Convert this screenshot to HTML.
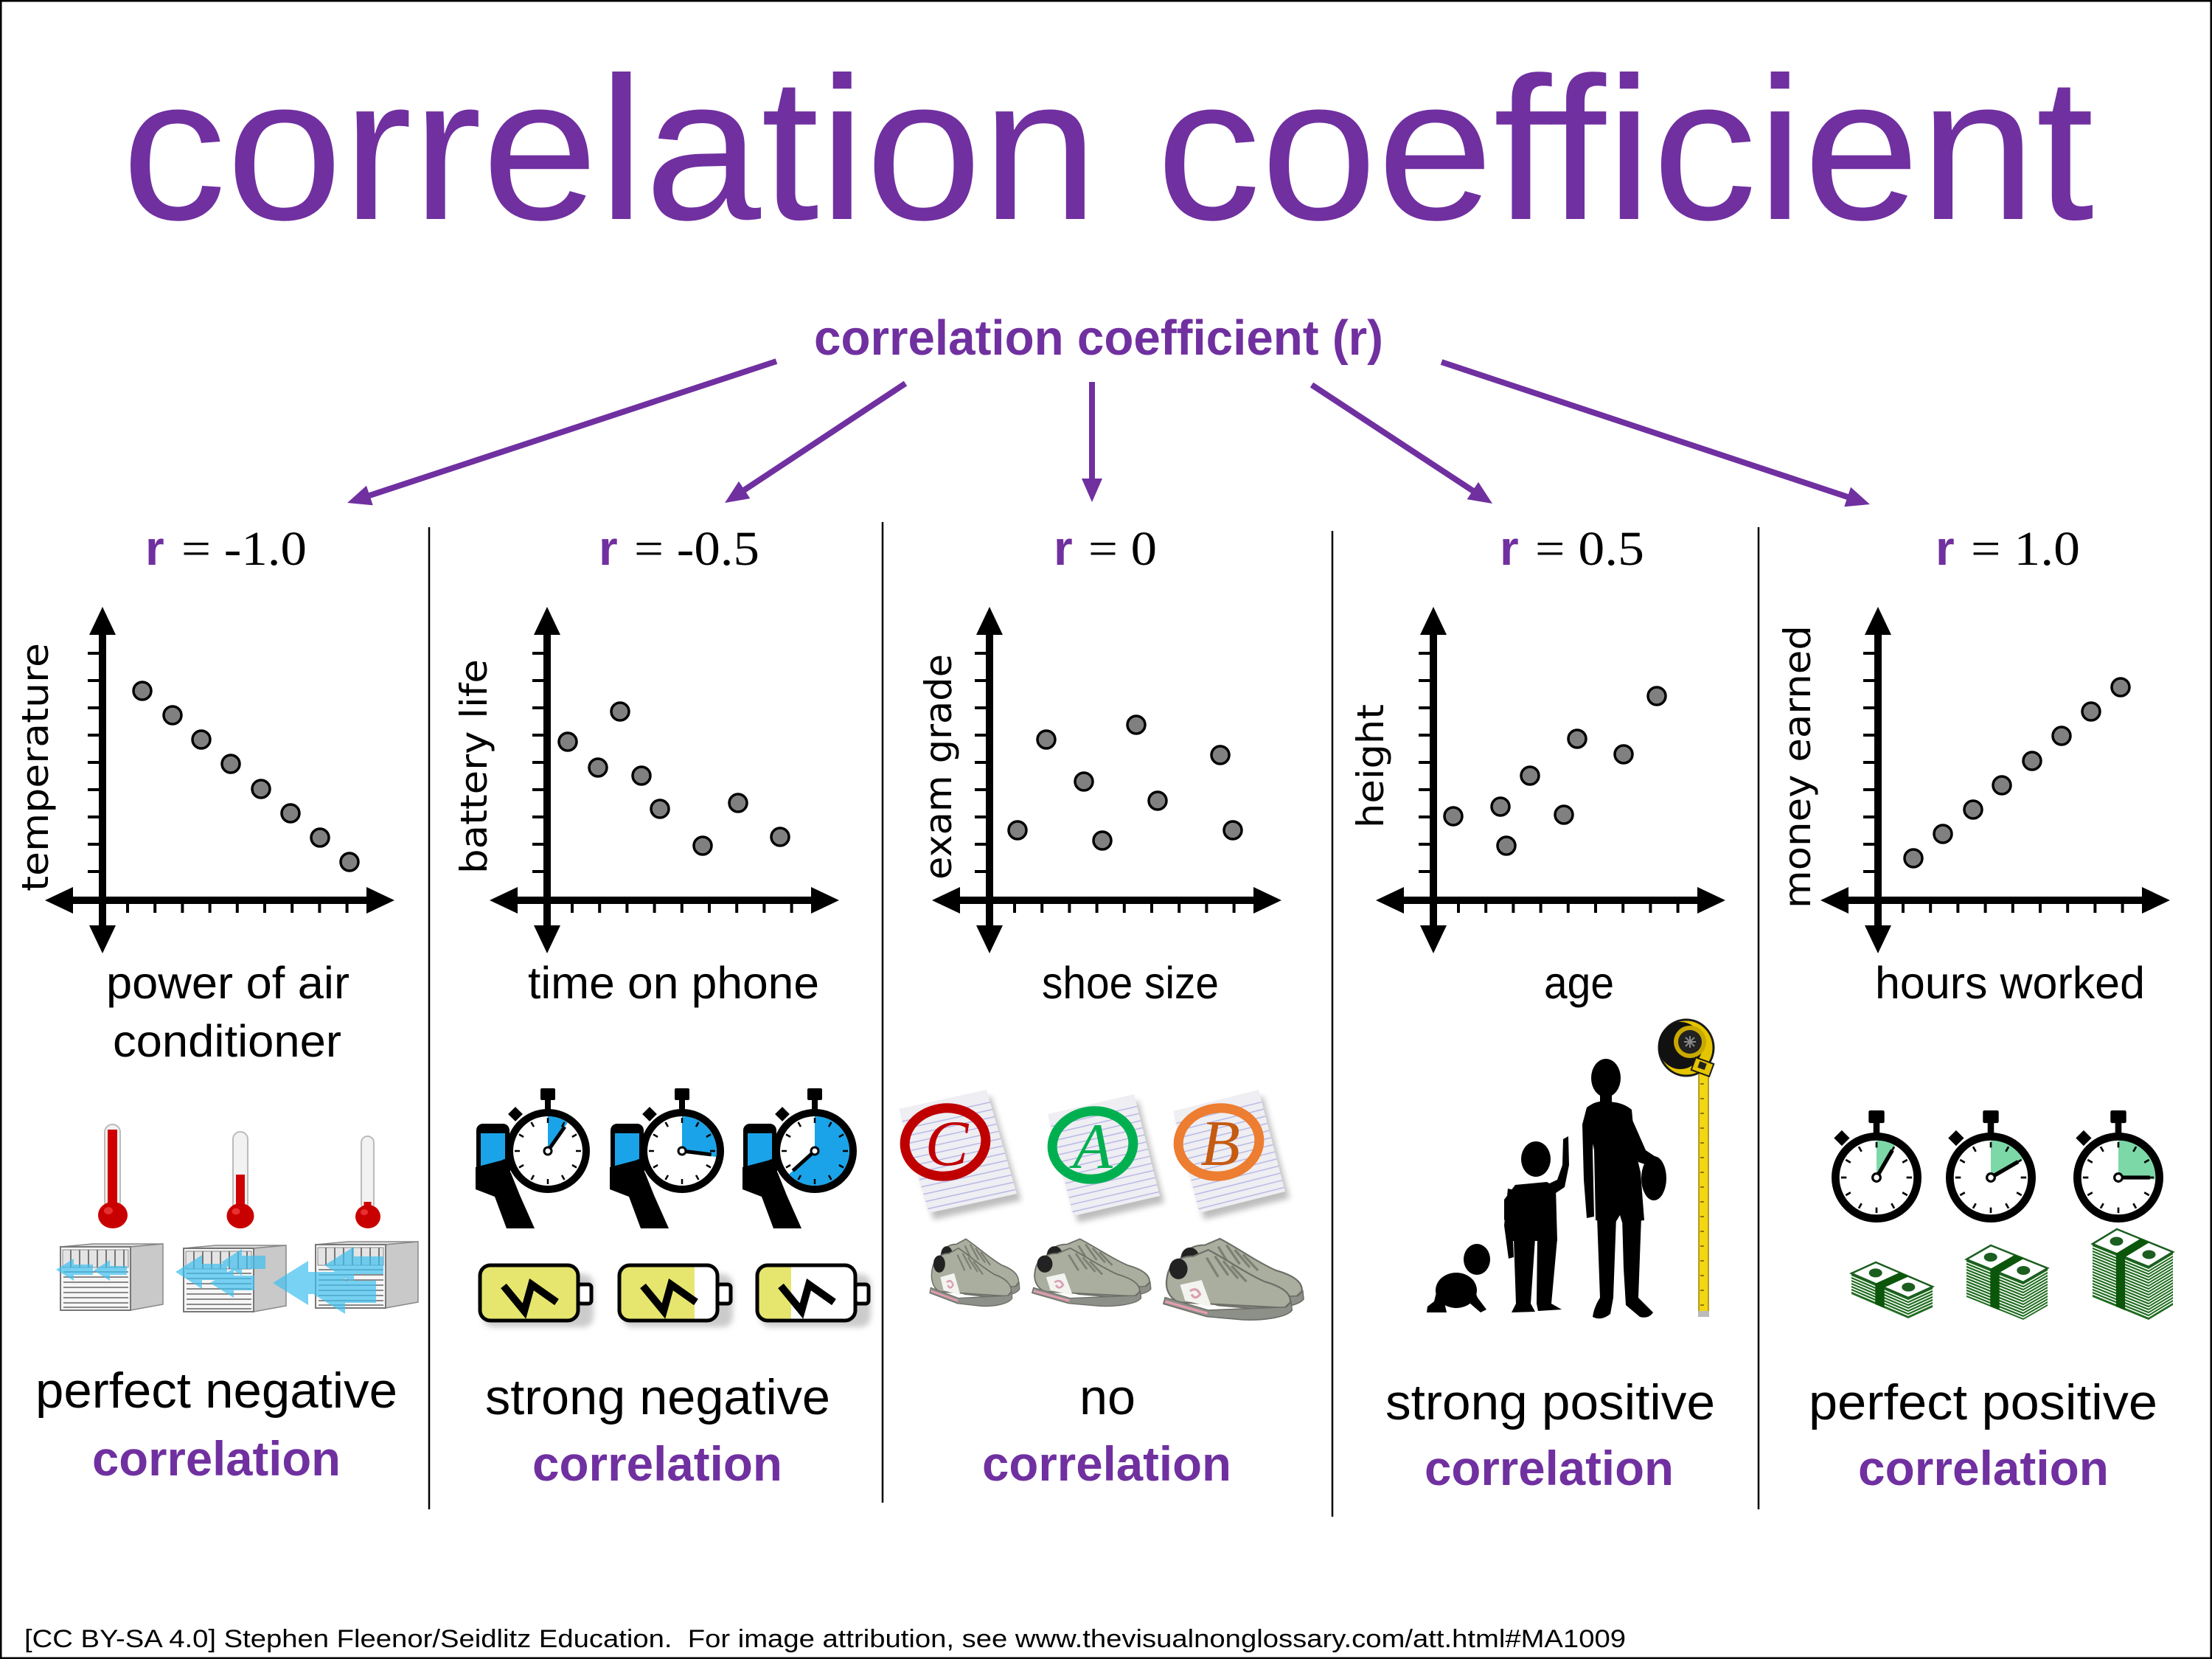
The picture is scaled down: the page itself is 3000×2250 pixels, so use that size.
<!DOCTYPE html>
<html><head><meta charset="utf-8"><style>html,body{margin:0;padding:0;background:#fff}svg{display:block}</style></head>
<body>
<svg width="3000" height="2250" viewBox="0 0 3000 2250" xmlns="http://www.w3.org/2000/svg" xmlns:xlink="http://www.w3.org/1999/xlink">
<defs>
<marker id="ah" markerUnits="userSpaceOnUse" markerWidth="34" markerHeight="30" refX="12" refY="14" orient="auto"><path d="M0,0 L32,14 L0,28 Z" fill="#7030A0"/></marker>
<filter id="bl" x="-20%" y="-20%" width="140%" height="140%"><feGaussianBlur stdDeviation="4"/></filter>
<clipPath id="batclip"><rect x="0" y="0" width="133" height="75" rx="14"/></clipPath>
<g id="axes">
<line x1="0" y1="850" x2="0" y2="1266" stroke="#000" stroke-width="10"/>
<polygon points="0,823 -18,861 18,861" fill="#000"/>
<polygon points="0,1293 -18,1255 18,1255" fill="#000"/>
<line x1="-50" y1="1221" x2="370" y2="1221" stroke="#000" stroke-width="10"/>
<polygon points="-78,1221 -40,1203 -40,1239" fill="#000"/>
<polygon points="396,1221 358,1203 358,1239" fill="#000"/>
<path d="M-20,886H0M-20,923H0M-20,960H0M-20,997H0M-20,1034H0M-20,1071H0M-20,1108H0M-20,1145H0M-20,1182H0" stroke="#000" stroke-width="4" fill="none"/>
<path d="M34,1221V1238M71.2,1221V1238M108.4,1221V1238M145.6,1221V1238M182.8,1221V1238M220,1221V1238M257.2,1221V1238M294.4,1221V1238M331.6,1221V1238" stroke="#000" stroke-width="4" fill="none"/>
</g>
<g id="sw">
<rect x="-10" y="-85" width="20" height="16" rx="2" fill="#000"/>
<rect x="-4" y="-71" width="8" height="15" fill="#000"/>
<rect x="-7" y="-7" width="14" height="14" fill="#000" transform="translate(-44,-50) rotate(45)"/>
<circle r="52" fill="#fff" stroke="#000" stroke-width="10"/>
</g>
<g id="ticks" stroke="#000" stroke-width="2.5">
<path d="M0,-38L0,-45M19,-32.9L22.5,-39M32.9,-19L39,-22.5M38,0L45,0M32.9,19L39,22.5M19,32.9L22.5,39M0,38L0,45M-19,32.9L-22.5,39M-32.9,19L-39,22.5M-38,0L-45,0M-32.9,-19L-39,-22.5M-19,-32.9L-22.5,-39"/>
</g>
<g id="phone">
<rect x="-94" y="-34" width="39" height="84" rx="6" fill="#1aa3e8" stroke="#000" stroke-width="6"/>
<rect x="-94" y="-34" width="39" height="10" fill="#000"/>
<polygon points="-98,22 -60,12 -50,30 -38,60 -18,105 -56,105 -72,62 -98,52" fill="#000"/>
<ellipse cx="-58" cy="22" rx="8" ry="11" fill="#000"/>
</g>
<g id="acunit">
<polygon points="0,4 95,4 139,0 44,0" fill="#dcdcdc" stroke="#888" stroke-width="1.5"/>
<polygon points="95,4 139,0 139,82 95,90" fill="#c9c9c9" stroke="#888" stroke-width="1.5"/>
<rect x="0" y="4" width="95" height="86" fill="#f6f6f6" stroke="#777" stroke-width="2"/>
<rect x="3" y="8" width="89" height="24" fill="#e4e4e4" stroke="#888" stroke-width="1"/>
<path d="M14,8V32M26,8V32M38,8V32M50,8V32M62,8V32M74,8V32M86,8V32" stroke="#777" stroke-width="2"/>
<path d="M4,38H92M4,45H92M4,52H92M4,59H92M4,66H92M4,73H92M4,80H92M4,86H92" stroke="#666" stroke-width="1.6"/>
</g>
<g id="shoe">
<path d="M8,42 C10,24 22,14 40,14 L58,6 C80,18 104,36 126,46 C146,52 158,60 157,72 L150,79 L22,72 C10,66 6,54 8,42 Z" fill="#a9ae9e" stroke="#6e6e68" stroke-width="2"/>
<path d="M6,66 L58,82 L152,78 L158,72 L159,82 C152,92 120,95 100,94 L56,90 L4,74 Z" fill="#8d9088" stroke="#6e6e68" stroke-width="1.5"/>
<path d="M6,71 L57,86" stroke="#e79bb0" stroke-width="3"/>
<path d="M24,50 L50,44 L62,78 L30,70 Z" fill="#f3f3f0"/>
<path d="M36,58 q8,-6 12,4 q-6,8 -10,0" stroke="#d9a0b0" stroke-width="3" fill="none"/>
<ellipse cx="22" cy="30" rx="11" ry="13" fill="#222"/>
<path d="M56,16 L70,40 M66,14 L82,38 M76,20 L94,42 M86,26 L104,46" stroke="#7d8175" stroke-width="3"/>
</g>
<g id="pair"><use href="#shoe" x="14" y="0"/><use href="#shoe" x="0" y="14"/></g>
</defs>

<rect x="0" y="0" width="3000" height="2250" fill="#fff"/>
<rect x="1.25" y="1.25" width="2997.5" height="2247.5" fill="none" stroke="#000" stroke-width="2.5"/>

<!-- Title -->
<text x="165" y="297" font-family="Liberation Sans, Arial, sans-serif" font-size="276" fill="#7030A0" textLength="2675" lengthAdjust="spacingAndGlyphs">correlation coefficient</text>
<text x="1104" y="481" font-family="Liberation Sans, Arial, sans-serif" font-weight="bold" font-size="67" fill="#7030A0" textLength="772" lengthAdjust="spacingAndGlyphs">correlation coefficient (r)</text>

<!-- Arrows -->
<g stroke="#7030A0" stroke-width="8" fill="none" marker-end="url(#ah)">
<line x1="1053" y1="490" x2="490" y2="675.7"/>
<line x1="1228" y1="520" x2="999.7" y2="671"/>
<line x1="1481" y1="518" x2="1481" y2="661"/>
<line x1="1779" y1="522" x2="2007.3" y2="672"/>
<line x1="1955" y1="491" x2="2517" y2="677.7"/>
</g>

<!-- Dividers -->
<g stroke="#000" stroke-width="2.5">
<line x1="582" y1="715" x2="582" y2="2047"/>
<line x1="1197" y1="708" x2="1197" y2="2038"/>
<line x1="1807" y1="720" x2="1807" y2="2057"/>
<line x1="2385" y1="715" x2="2385" y2="2047"/>
</g>

<!-- r labels -->
<g font-size="66">
<text x="197" y="766" font-family="Liberation Sans, Arial, sans-serif" font-weight="bold" fill="#7030A0">r</text>
<text x="246" y="766" font-family="Liberation Serif, Times New Roman, serif" fill="#000" textLength="170" lengthAdjust="spacingAndGlyphs">= -1.0</text>
<text x="812" y="766" font-family="Liberation Sans, Arial, sans-serif" font-weight="bold" fill="#7030A0">r</text>
<text x="860" y="766" font-family="Liberation Serif, Times New Roman, serif" fill="#000" textLength="170" lengthAdjust="spacingAndGlyphs">= -0.5</text>
<text x="1429" y="766" font-family="Liberation Sans, Arial, sans-serif" font-weight="bold" fill="#7030A0">r</text>
<text x="1476" y="766" font-family="Liberation Serif, Times New Roman, serif" fill="#000" textLength="93" lengthAdjust="spacingAndGlyphs">= 0</text>
<text x="2034" y="766" font-family="Liberation Sans, Arial, sans-serif" font-weight="bold" fill="#7030A0">r</text>
<text x="2082" y="766" font-family="Liberation Serif, Times New Roman, serif" fill="#000" textLength="148" lengthAdjust="spacingAndGlyphs">= 0.5</text>
<text x="2625" y="766" font-family="Liberation Sans, Arial, sans-serif" font-weight="bold" fill="#7030A0">r</text>
<text x="2673" y="766" font-family="Liberation Serif, Times New Roman, serif" fill="#000" textLength="148" lengthAdjust="spacingAndGlyphs">= 1.0</text>
</g>

<!-- Axes -->
<use href="#axes" x="139"/>
<use href="#axes" x="742"/>
<use href="#axes" x="1342"/>
<use href="#axes" x="1944"/>
<use href="#axes" x="2547"/>

<!-- Points -->
<g fill="#808080" stroke="#000" stroke-width="3.5">
<circle cx="193" cy="937" r="12"/><circle cx="234" cy="970" r="12"/><circle cx="273" cy="1003" r="12"/><circle cx="313" cy="1036" r="12"/><circle cx="354" cy="1070" r="12"/><circle cx="394" cy="1103" r="12"/><circle cx="434" cy="1136" r="12"/><circle cx="474" cy="1169" r="12"/>
<circle cx="770" cy="1006" r="12"/><circle cx="811" cy="1041" r="12"/><circle cx="841" cy="965" r="12"/><circle cx="870" cy="1052" r="12"/><circle cx="895" cy="1097" r="12"/><circle cx="953" cy="1147" r="12"/><circle cx="1001" cy="1089" r="12"/><circle cx="1058" cy="1135" r="12"/>
<circle cx="1380" cy="1126" r="12"/><circle cx="1419" cy="1003" r="12"/><circle cx="1470" cy="1060" r="12"/><circle cx="1495" cy="1140" r="12"/><circle cx="1541" cy="983" r="12"/><circle cx="1570" cy="1086" r="12"/><circle cx="1655" cy="1024" r="12"/><circle cx="1672" cy="1126" r="12"/>
<circle cx="1971" cy="1107" r="12"/><circle cx="2035" cy="1094" r="12"/><circle cx="2043" cy="1147" r="12"/><circle cx="2075" cy="1052" r="12"/><circle cx="2121" cy="1105" r="12"/><circle cx="2139" cy="1002" r="12"/><circle cx="2202" cy="1023" r="12"/><circle cx="2247" cy="944" r="12"/>
<circle cx="2595" cy="1164" r="12"/><circle cx="2635" cy="1131" r="12"/><circle cx="2676" cy="1098" r="12"/><circle cx="2715" cy="1065" r="12"/><circle cx="2756" cy="1032" r="12"/><circle cx="2796" cy="998" r="12"/><circle cx="2836" cy="965" r="12"/><circle cx="2876" cy="932" r="12"/>
</g>

<!-- Y axis labels -->
<g font-family="DejaVu Sans, Verdana, sans-serif" font-size="50" fill="#000">
<text transform="translate(65,1209) rotate(-90)" textLength="337" lengthAdjust="spacingAndGlyphs">temperature</text>
<text transform="translate(660,1185) rotate(-90)" textLength="291" lengthAdjust="spacingAndGlyphs">battery life</text>
<text transform="translate(1290,1193) rotate(-90)" textLength="306" lengthAdjust="spacingAndGlyphs">exam grade</text>
<text transform="translate(1876,1123) rotate(-90)" textLength="168" lengthAdjust="spacingAndGlyphs">height</text>
<text transform="translate(2455,1232) rotate(-90)" textLength="384" lengthAdjust="spacingAndGlyphs">money earned</text>
</g>

<!-- X axis labels -->
<g font-family="Liberation Sans, Arial, sans-serif" font-size="61" fill="#000">
<text x="144" y="1354" textLength="330" lengthAdjust="spacingAndGlyphs">power of air</text>
<text x="153" y="1433" textLength="310" lengthAdjust="spacingAndGlyphs">conditioner</text>
<text x="716" y="1354" textLength="395" lengthAdjust="spacingAndGlyphs">time on phone</text>
<text x="1413" y="1354" textLength="240" lengthAdjust="spacingAndGlyphs">shoe size</text>
<text x="2094" y="1354" textLength="95" lengthAdjust="spacingAndGlyphs">age</text>
<text x="2543" y="1354" textLength="366" lengthAdjust="spacingAndGlyphs">hours worked</text>
</g>

<!-- Captions -->
<g font-family="Liberation Sans, Arial, sans-serif" font-size="68" fill="#000">
<text x="48" y="1909" textLength="491" lengthAdjust="spacingAndGlyphs">perfect negative</text>
<text x="658" y="1918" textLength="468" lengthAdjust="spacingAndGlyphs">strong negative</text>
<text x="1464" y="1918" textLength="76" lengthAdjust="spacingAndGlyphs">no</text>
<text x="1879" y="1925" textLength="447" lengthAdjust="spacingAndGlyphs">strong positive</text>
<text x="2453" y="1925" textLength="473" lengthAdjust="spacingAndGlyphs">perfect positive</text>
</g>
<g font-family="Liberation Sans, Arial, sans-serif" font-weight="bold" font-size="66" fill="#7030A0">
<text x="125" y="2001" textLength="337" lengthAdjust="spacingAndGlyphs">correlation</text>
<text x="722" y="2008" textLength="339" lengthAdjust="spacingAndGlyphs">correlation</text>
<text x="1332" y="2008" textLength="338" lengthAdjust="spacingAndGlyphs">correlation</text>
<text x="1932" y="2014" textLength="338" lengthAdjust="spacingAndGlyphs">correlation</text>
<text x="2520" y="2014" textLength="340" lengthAdjust="spacingAndGlyphs">correlation</text>
</g>

<!-- Footer -->
<text x="33" y="2234" font-family="Liberation Sans, Arial, sans-serif" font-size="34" fill="#000" textLength="2172" lengthAdjust="spacingAndGlyphs">[CC BY-SA 4.0] Stephen Fleenor/Seidlitz Education.&#160; For image attribution, see www.thevisualnonglossary.com/att.html#MA1009</text>

<!-- Panel 1: thermometers -->
<g>
<rect x="142" y="1525" width="21" height="115" rx="10.5" fill="#f2f2f2" stroke="#bbb" stroke-width="2"/>
<rect x="146" y="1532" width="13" height="110" fill="#d00000"/>
<ellipse cx="153" cy="1648" rx="20" ry="18" fill="#c80000"/>
<ellipse cx="147" cy="1642" rx="6" ry="5" fill="#ff5050" opacity="0.6"/>
<rect x="316" y="1535" width="20" height="110" rx="10" fill="#f2f2f2" stroke="#bbb" stroke-width="2"/>
<rect x="320" y="1593" width="12" height="50" fill="#d00000"/>
<ellipse cx="326" cy="1649" rx="18.5" ry="17" fill="#c80000"/>
<ellipse cx="320" cy="1643" rx="5.5" ry="4.5" fill="#ff5050" opacity="0.6"/>
<rect x="490" y="1541" width="17" height="100" rx="8.5" fill="#f2f2f2" stroke="#bbb" stroke-width="2"/>
<rect x="493.5" y="1630" width="10" height="14" fill="#d00000"/>
<ellipse cx="499" cy="1650" rx="17" ry="16" fill="#c80000"/>
<ellipse cx="494" cy="1644" rx="5" ry="4" fill="#ff5050" opacity="0.6"/>
</g>
<use href="#acunit" x="82" y="1687"/>
<use href="#acunit" x="249" y="1689"/>
<use href="#acunit" x="428" y="1684"/>
<g fill="#3fc0f0" opacity="0.7">
<polygon points="76,1722 100,1707 100,1715 126,1715 126,1729 100,1729 100,1737"/>
<polygon points="127,1723 149,1709 149,1717 172,1717 172,1729 149,1729 149,1737"/>
<polygon points="238,1725 274,1702 274,1714 308,1714 308,1736 274,1736 274,1748"/>
<polygon points="285,1740 317,1720 317,1730 345,1730 345,1750 317,1750 317,1760"/>
<polygon points="300,1712 328,1694 328,1703 360,1703 360,1721 328,1721 328,1730"/>
<polygon points="370,1740 418,1710 418,1725 460,1725 460,1755 418,1755 418,1770"/>
<polygon points="420,1752 468,1722 468,1737 510,1737 510,1767 468,1767 468,1782"/>
<polygon points="440,1716 480,1691 480,1704 520,1704 520,1728 480,1728 480,1741"/>
</g>

<!-- Panel 2: stopwatches with phones -->
<g transform="translate(743,1561)">
<use href="#sw"/>
<path d="M0,0 L0,-47 A47,47 0 0 1 26.96,-38.5 Z" fill="#1aa3e8"/>
<use href="#ticks"/>
<line x1="0" y1="0" x2="22.9" y2="-32.8" stroke="#000" stroke-width="5"/>
<circle r="5" fill="#fff" stroke="#000" stroke-width="3"/>
<use href="#phone"/>
</g>
<g transform="translate(925,1561)">
<use href="#sw"/>
<path d="M0,0 L0,-47 A47,47 0 0 1 46.29,8.16 Z" fill="#1aa3e8"/>
<use href="#ticks"/>
<line x1="0" y1="0" x2="39.7" y2="4.87" stroke="#000" stroke-width="5"/>
<circle r="5" fill="#fff" stroke="#000" stroke-width="3"/>
<use href="#phone"/>
</g>
<g transform="translate(1105,1561)">
<use href="#sw"/>
<path d="M0,0 L0,-47 A47,47 0 1 1 -34.93,31.45 Z" fill="#1aa3e8"/>
<use href="#ticks"/>
<line x1="0" y1="0" x2="-29.7" y2="26.8" stroke="#000" stroke-width="5"/>
<circle r="5" fill="#fff" stroke="#000" stroke-width="3"/>
<use href="#phone"/>
</g>

<!-- Batteries -->
<g fill="#999" opacity="0.5" filter="url(#bl)">
<rect x="655" y="1728" width="150" height="72" rx="14"/>
<rect x="844" y="1728" width="150" height="72" rx="14"/>
<rect x="1031" y="1728" width="150" height="72" rx="14"/>
</g>
<g transform="translate(651,1716)">
<rect x="133" y="26" width="18" height="26" rx="4" fill="#fff" stroke="#000" stroke-width="5"/>
<rect x="0" y="0" width="133" height="75" rx="14" fill="#fff"/>
<rect x="0" y="0" width="133" height="75" fill="#e6e66e" clip-path="url(#batclip)"/>
<rect x="0" y="0" width="133" height="75" rx="14" fill="none" stroke="#000" stroke-width="5"/>
<polyline points="32,28 60,62 70,26 104,50" fill="none" stroke="#000" stroke-width="10" stroke-linejoin="miter"/>
</g>
<g transform="translate(840,1716)">
<rect x="133" y="26" width="18" height="26" rx="4" fill="#fff" stroke="#000" stroke-width="5"/>
<rect x="0" y="0" width="133" height="75" rx="14" fill="#fff"/>
<rect x="0" y="0" width="102" height="75" fill="#e6e66e" clip-path="url(#batclip)"/>
<rect x="0" y="0" width="133" height="75" rx="14" fill="none" stroke="#000" stroke-width="5"/>
<polyline points="32,28 60,62 70,26 104,50" fill="none" stroke="#000" stroke-width="10" stroke-linejoin="miter"/>
</g>
<g transform="translate(1027,1716)">
<rect x="133" y="26" width="18" height="26" rx="4" fill="#fff" stroke="#000" stroke-width="5"/>
<rect x="0" y="0" width="133" height="75" rx="14" fill="#fff"/>
<rect x="0" y="0" width="46" height="75" fill="#e6e66e" clip-path="url(#batclip)"/>
<rect x="0" y="0" width="133" height="75" rx="14" fill="none" stroke="#000" stroke-width="5"/>
<polyline points="32,28 60,62 70,26 104,50" fill="none" stroke="#000" stroke-width="10" stroke-linejoin="miter"/>
</g>

<!-- Panel 3: papers -->
<g fill="#888" opacity="0.55" filter="url(#bl)">
<polygon points="1225,1513 1344,1487 1385,1628 1266,1654"/>
<polygon points="1427,1520 1544,1493 1579,1631 1462,1658"/>
<polygon points="1597,1516 1713,1487 1749,1625 1633,1654"/>
</g>
<g transform="matrix(119,-26,41,141,1219,1504)">
<rect width="1" height="1" fill="#eeeef3"/>
<path d="M0,0.12H1M0,0.19H1M0,0.26H1M0,0.33H1M0,0.40H1M0,0.47H1M0,0.54H1M0,0.61H1M0,0.68H1M0,0.75H1M0,0.82H1M0,0.89H1M0,0.96H1" stroke="#b9b9e6" stroke-width="1.5" vector-effect="non-scaling-stroke"/>
</g>
<g transform="matrix(117,-27,35,138,1421,1511)">
<rect width="1" height="1" fill="#eeeef3"/>
<path d="M0,0.12H1M0,0.19H1M0,0.26H1M0,0.33H1M0,0.40H1M0,0.47H1M0,0.54H1M0,0.61H1M0,0.68H1M0,0.75H1M0,0.82H1M0,0.89H1M0,0.96H1" stroke="#b9b9e6" stroke-width="1.5" vector-effect="non-scaling-stroke"/>
</g>
<g transform="matrix(116,-29,36,138,1591,1507)">
<rect width="1" height="1" fill="#eeeef3"/>
<path d="M0,0.12H1M0,0.19H1M0,0.26H1M0,0.33H1M0,0.40H1M0,0.47H1M0,0.54H1M0,0.61H1M0,0.68H1M0,0.75H1M0,0.82H1M0,0.89H1M0,0.96H1" stroke="#b9b9e6" stroke-width="1.5" vector-effect="non-scaling-stroke"/>
</g>
<ellipse cx="1282" cy="1549" rx="55" ry="46" transform="rotate(-8 1282 1549)" fill="none" stroke="#c00000" stroke-width="13"/>
<ellipse cx="1482" cy="1553" rx="55" ry="46" transform="rotate(-8 1482 1553)" fill="none" stroke="#00b050" stroke-width="13"/>
<ellipse cx="1653" cy="1549" rx="55" ry="46" transform="rotate(-8 1653 1549)" fill="none" stroke="#ed7d31" stroke-width="13"/>
<g font-family="Liberation Serif, Times New Roman, serif" font-style="italic" font-size="88" text-anchor="middle">
<text x="1284" y="1580" fill="#c00000">C</text>
<text x="1482" y="1584" fill="#00b050">A</text>
<text x="1655" y="1580" fill="#c55a11">B</text>
</g>
<!-- shoes -->
<use href="#pair" transform="translate(1258,1675) scale(0.722,0.892)"/>
<use href="#pair" transform="translate(1396,1675) scale(0.953,0.892)"/>
<use href="#pair" transform="translate(1573.5,1673.5) scale(1.124,1.078)"/>

<!-- Panel 4: silhouettes -->
<g fill="#000">
<ellipse cx="2178" cy="1462" rx="20" ry="26"/>
<rect x="2170" y="1484" width="16" height="16"/>
<path d="M2152,1502 Q2165,1492 2178,1494 Q2200,1494 2213,1505 L2218,1560 L2225,1590 L2230,1655 L2200,1658 L2197,1648 L2191,1658 L2164,1655 L2162,1560 Z"/>
<path d="M2152,1502 L2146,1525 L2148,1600 L2152,1652 L2162,1650 L2160,1560 L2162,1520 Z"/>
<ellipse cx="2243" cy="1598" rx="17" ry="30"/>
<path d="M2210,1510 L2232,1560 L2250,1572 L2245,1584 L2222,1576 L2213,1550 Z"/>
<path d="M2166,1650 L2192,1650 L2188,1760 L2184,1782 Q2172,1792 2160,1786 Q2162,1772 2170,1760 Z"/>
<path d="M2200,1650 L2226,1650 L2222,1760 L2242,1780 Q2236,1789 2224,1786 L2205,1770 L2202,1720 Z"/>
<ellipse cx="2083" cy="1572" rx="20" ry="24"/>
<path d="M2055,1607 L2098,1603 L2110,1610 L2112,1683 L2050,1683 L2046,1650 L2040,1655 L2040,1627 Z"/>
<path d="M2045,1612 L2040,1662 L2046,1707 L2053,1705 L2051,1660 L2058,1615 Z"/>
<path d="M2095,1608 L2112,1600 L2119,1580 L2120,1545 L2127,1541 L2128,1580 L2122,1610 L2110,1618 Z"/>
<path d="M2053,1680 L2082,1680 L2076,1768 L2082,1779 L2050,1780 L2056,1768 Z"/>
<path d="M2085,1680 L2112,1680 L2104,1768 L2118,1776 L2086,1778 L2084,1768 Z"/>
<ellipse cx="2003" cy="1708" rx="18" ry="21"/>
<ellipse cx="1975" cy="1750" rx="28" ry="24"/>
<path d="M1995,1738 L2004,1760 L2016,1776 L2008,1780 L1994,1768 L1985,1748 Z"/>
<path d="M1950,1745 L1945,1765 L1936,1772 L1935,1780 L1962,1780 L1958,1762 Z"/>
</g>
<!-- tape measure -->
<rect x="2304" y="1452" width="13" height="332" fill="#f3d614" stroke="#9c8300" stroke-width="1.5"/>
<path d="M2306,1470h5M2306,1490h5M2306,1510h5M2306,1530h5M2306,1550h5M2306,1570h5M2306,1590h5M2306,1610h5M2306,1630h5M2306,1650h5M2306,1670h5M2306,1690h5M2306,1710h5M2306,1730h5M2306,1750h5M2306,1770h5" stroke="#6b5a00" stroke-width="1.5"/>
<rect x="2303" y="1778" width="15" height="8" fill="#bbb"/>
<ellipse cx="2287" cy="1421" rx="37" ry="38" fill="#e5c400" stroke="#1a1a1a" stroke-width="3"/>
<ellipse cx="2279" cy="1418" rx="30" ry="32" fill="#111"/>
<circle cx="2292" cy="1413" r="22" fill="#c9a800"/>
<circle cx="2292" cy="1413" r="16" fill="#222"/>
<path d="M2292,1405V1421M2284,1413H2300M2286,1407L2298,1419M2298,1407L2286,1419" stroke="#888" stroke-width="2"/>
<rect x="2296" y="1438" width="26" height="18" fill="#e5c400" stroke="#1a1a1a" stroke-width="2" transform="rotate(20 2309 1447)"/>
<rect x="2303" y="1441" width="10" height="9" fill="#222" transform="rotate(20 2309 1447)"/>

<!-- Panel 5: stopwatches -->
<g transform="translate(2545,1597) scale(1.07)">
<use href="#sw"/>
<path d="M0,0 L0,-47 A47,47 0 0 1 23.5,-40.7 Z" fill="#7dd8a8"/>
<use href="#ticks"/>
<line x1="0" y1="0" x2="20" y2="-34.6" stroke="#000" stroke-width="5"/>
<circle r="5" fill="#fff" stroke="#000" stroke-width="3"/>
</g>
<g transform="translate(2700,1597) scale(1.07)">
<use href="#sw"/>
<path d="M0,0 L0,-47 A47,47 0 0 1 40.7,-23.5 Z" fill="#7dd8a8"/>
<use href="#ticks"/>
<line x1="0" y1="0" x2="34.6" y2="-20" stroke="#000" stroke-width="5"/>
<circle r="5" fill="#fff" stroke="#000" stroke-width="3"/>
</g>
<g transform="translate(2873,1597) scale(1.07)">
<use href="#sw"/>
<path d="M0,0 L0,-47 A47,47 0 0 1 46.94,2.46 Z" fill="#7dd8a8"/>
<use href="#ticks"/>
<line x1="0" y1="0" x2="40" y2="0" stroke="#000" stroke-width="5"/>
<circle r="5" fill="#fff" stroke="#000" stroke-width="3"/>
</g>

<!-- Money stacks -->
<defs>
<polyline id="s1" points="2511,1727 2588,1760 2621,1745" fill="none" stroke="#fff" stroke-width="1.5"/>
<polyline id="s2" points="2667,1708 2744,1739 2777,1720" fill="none" stroke="#fff" stroke-width="1.5"/>
<polyline id="s3" points="2838,1687 2914,1718 2947,1698" fill="none" stroke="#fff" stroke-width="1.5"/>
</defs>
<g>
<polygon points="2511,1727 2588,1760 2588,1788 2511,1755" fill="#1e6b1e"/>
<polygon points="2588,1760 2621,1745 2621,1773 2588,1788" fill="#1e6b1e"/>
<use href="#s1" y="4"/><use href="#s1" y="8"/><use href="#s1" y="12"/><use href="#s1" y="16"/><use href="#s1" y="20"/><use href="#s1" y="24"/>
<polygon points="2511,1727 2544,1712 2621,1745 2588,1760" fill="#fff" stroke="#1b5e20" stroke-width="2.5"/>
<ellipse cx="2543.7" cy="1726.4" rx="9" ry="6" fill="#1b5e20"/>
<ellipse cx="2588.3" cy="1745.6" rx="9" ry="6" fill="#1b5e20"/>
<polygon points="2543.3,1740.9 2555.7,1746.1 2588.7,1731.1 2576.3,1725.9" fill="#0b560b"/>
<polygon points="2543.3,1740.9 2555.7,1746.1 2555.7,1774.1 2543.3,1768.9" fill="#0b560b"/>
</g>
<g>
<polygon points="2667,1708 2744,1739 2744,1790 2667,1759" fill="#1e6b1e"/>
<polygon points="2744,1739 2777,1720 2777,1771 2744,1790" fill="#1e6b1e"/>
<use href="#s2" y="4"/><use href="#s2" y="8"/><use href="#s2" y="12"/><use href="#s2" y="16"/><use href="#s2" y="20"/><use href="#s2" y="24"/><use href="#s2" y="28"/><use href="#s2" y="32"/><use href="#s2" y="36"/><use href="#s2" y="40"/><use href="#s2" y="44"/><use href="#s2" y="48"/>
<polygon points="2667,1708 2700,1689 2777,1720 2744,1739" fill="#fff" stroke="#1b5e20" stroke-width="2.5"/>
<ellipse cx="2699.7" cy="1705" rx="9" ry="6" fill="#1b5e20"/>
<ellipse cx="2744.3" cy="1723" rx="9" ry="6" fill="#1b5e20"/>
<polygon points="2699.3,1721 2711.7,1726 2744.7,1707 2732.3,1702" fill="#0b560b"/>
<polygon points="2699.3,1721 2711.7,1726 2711.7,1777 2699.3,1772" fill="#0b560b"/>
</g>
<g>
<polygon points="2838,1687 2914,1718 2914,1790 2838,1759" fill="#1e6b1e"/>
<polygon points="2914,1718 2947,1698 2947,1770 2914,1790" fill="#1e6b1e"/>
<use href="#s3" y="4"/><use href="#s3" y="8"/><use href="#s3" y="12"/><use href="#s3" y="16"/><use href="#s3" y="20"/><use href="#s3" y="24"/><use href="#s3" y="28"/><use href="#s3" y="32"/><use href="#s3" y="36"/><use href="#s3" y="40"/><use href="#s3" y="44"/><use href="#s3" y="48"/><use href="#s3" y="52"/><use href="#s3" y="56"/><use href="#s3" y="60"/><use href="#s3" y="64"/><use href="#s3" y="68"/>
<polygon points="2838,1687 2871,1667 2947,1698 2914,1718" fill="#fff" stroke="#1b5e20" stroke-width="2.5"/>
<ellipse cx="2870.5" cy="1683.5" rx="9" ry="6" fill="#1b5e20"/>
<ellipse cx="2914.5" cy="1701.5" rx="9" ry="6" fill="#1b5e20"/>
<polygon points="2869.9,1700 2882.1,1705 2915.1,1685 2902.9,1680" fill="#0b560b"/>
<polygon points="2869.9,1700 2882.1,1705 2882.1,1777 2869.9,1772" fill="#0b560b"/>
</g>
</svg>
</body></html>
